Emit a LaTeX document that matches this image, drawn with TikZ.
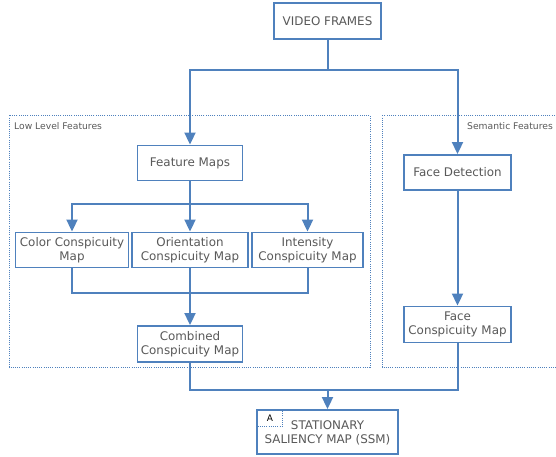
\documentclass[tikz,border=0pt]{standalone}
\usepackage{fontspec}
\setmainfont{DejaVu Sans}
\usepackage{xcolor}
\definecolor{Steel}{HTML}{4F81BD}
\definecolor{Slate}{HTML}{595959}
\usepackage{tikz}
\usetikzlibrary{arrows.meta,positioning,calc}

\begin{document}
\begin{tikzpicture}[x=1pt,y=-1pt,
  every node/.style={font=\fontsize{11.9}{14}\selectfont,align=center,text=Slate,inner sep=1pt},
  box/.style={draw=Steel,line width=1.9pt,fill=white,minimum height=35pt},
  zone/.style={draw=Steel,line width=1pt,dash pattern=on 1pt off 1.2pt},
  tag/.style={font=\fontsize{9.2}{11}\selectfont},
  link/.style={draw=Steel,line width=2pt},
  arrow/.style={link,-{Triangle[length=12pt,width=11pt]}}]
\useasboundingbox (0,0) rectangle (556,457);
% feature groups
\begin{scope}
\clip (0,0) rectangle (556,457);
\draw[zone] (9,115.5) rectangle (370,367);
\draw[zone] (382,115.5) rectangle (570,367);
\end{scope}
\node[tag,anchor=west] (lowlbl) at (13,126) {Low Level Features};
\node[tag,anchor=east] (semlbl) at (554,126) {Semantic Features};
% boxes
\node[box,minimum width=107pt,minimum height=36pt] (vf) at (327.5,21) {VIDEO FRAMES};
\node[box,minimum width=105pt] (fm) at (190,163) {Feature Maps};
\node[box,minimum width=116pt] (ocm) at (190,250) {Orientation\\Conspicuity Map};
\node[box,minimum width=113pt] (ccm) at (72,250) {Color Conspicuity\\Map};
\node[box,minimum width=111pt] (icm) at (307.5,250) {Intensity\\Conspicuity Map};
\node[box,minimum width=105pt,minimum height=36pt] (comb) at (190,344) {Combined\\Conspicuity Map};
\node[box,minimum width=107pt] (fd) at (457.5,172.5) {Face Detection};
\node[box,minimum width=107pt,minimum height=36pt] (fcm) at (457.5,324.5) {Face\\Conspicuity Map};
\node[box,minimum width=141pt,minimum height=44pt] (ssm) at (327.5,432) {\strut STATIONARY\\SALIENCY MAP (SSM)};
\node[draw=Steel,dash pattern=on 1pt off 1.2pt,line width=1pt,anchor=north west,minimum width=25pt,minimum height=16pt,
  font=\fontsize{9}{10}\selectfont,text=black,yshift=-1pt,xshift=1pt] (badge) at (ssm.north west) {A};
% connectors
\coordinate (split) at (327.5,70);
\coordinate (fan) at (190,203.5);
\coordinate (join) at (190,292.5);
\coordinate (merge) at (327.5,389.5);
\draw[link] (vf.south) -- (split);
\draw[arrow] (split) -| (fm.north);
\draw[arrow] (split) -| (fd.north);
\draw[link] (fm.south) -- (fan);
\draw[arrow] (fan) -| (ccm.north);
\draw[arrow] (fan) -- (ocm.north);
\draw[arrow] (fan) -| (icm.north);
\draw[link] (ccm.south) |- (join) -| (icm.south);
\draw[arrow] (ocm.south) -- (comb.north);
\draw[arrow] (fd.south) -- (fcm.north);
\draw[link] (comb.south) |- (merge) -| (fcm.south);
\draw[arrow] (merge) -- (ssm.north);
\end{tikzpicture}
\end{document}
